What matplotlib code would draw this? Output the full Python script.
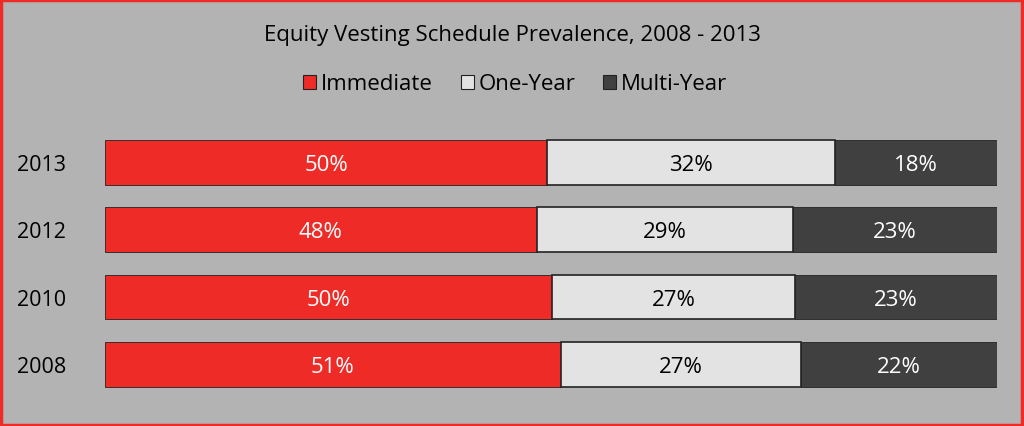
import matplotlib.pyplot as plt
from matplotlib.patches import Patch
from matplotlib.transforms import blended_transform_factory

years = ['2008', '2010', '2012', '2013']
immediate = [51.1, 50.1, 48.4, 49.6]
one_year = [26.9, 27.3, 28.7, 32.2]
multi_year = [22.0, 22.6, 22.9, 18.2]
series_names = ['Immediate', 'One-Year', 'Multi-Year']

colors = ['#EE2B27', '#E3E3E3', '#404040']
text_colors = ['white', 'black', 'white']
bg = '#B3B3B3'

plt.rcParams['font.family'] = ['Open Sans', 'DejaVu Sans']

fig = plt.figure(figsize=(10.24, 4.27), dpi=100, facecolor=bg)
ax = fig.add_axes([105 / 1024, 1 - 399 / 427, 892 / 1024, (399 - 129.75) / 427])
ax.set_facecolor(bg)

left = [0] * len(years)
for vals, c, tc in zip([immediate, one_year, multi_year], colors, text_colors):
    bars = ax.barh(years, vals, left=left, height=0.667, color=c,
                   edgecolor='#222222', linewidth=1.2 if c == colors[1] else 0.6)
    for b, v in zip(bars, vals):
        ax.text(b.get_x() + b.get_width() / 2, b.get_y() + b.get_height() / 2 - 0.03,
                f'{round(v)}%', ha='center', va='center', color=tc, fontsize=16)
    left = [l + v for l, v in zip(left, vals)]

ax.set_xlim(0, 100)
ax.set_ylim(-0.5, 3.5)
ax.set_xticks([])
ax.set_yticks([])
for s in ax.spines.values():
    s.set_visible(False)

# year labels, left aligned near the figure edge
trans = blended_transform_factory(fig.transFigure, ax.transData)
for i, y in enumerate(years):
    ax.text(17 / 1024, i - 0.03, y, transform=trans, ha='left', va='center', fontsize=15.5)

fig.text(0.5, 1 - 35 / 427, 'Equity Vesting Schedule Prevalence, 2008 - 2013',
         ha='center', va='center', fontsize=16)

handles = [Patch(facecolor=c, edgecolor='#222222', linewidth=0.8) for c in colors]
fig.legend(handles, series_names, loc='center', bbox_to_anchor=(0.503, 1 - 85 / 427),
           ncol=3, frameon=False, fontsize=16, handlelength=0.6, handleheight=0.6,
           handletextpad=0.2, columnspacing=1.25)

fig.patches.append(plt.Rectangle((0.001, 0.002), 0.997, 0.995, transform=fig.transFigure,
                                 fill=False, edgecolor='#EE2B27', linewidth=2.5))

fig.savefig('out.png', dpi=100, facecolor=bg)
